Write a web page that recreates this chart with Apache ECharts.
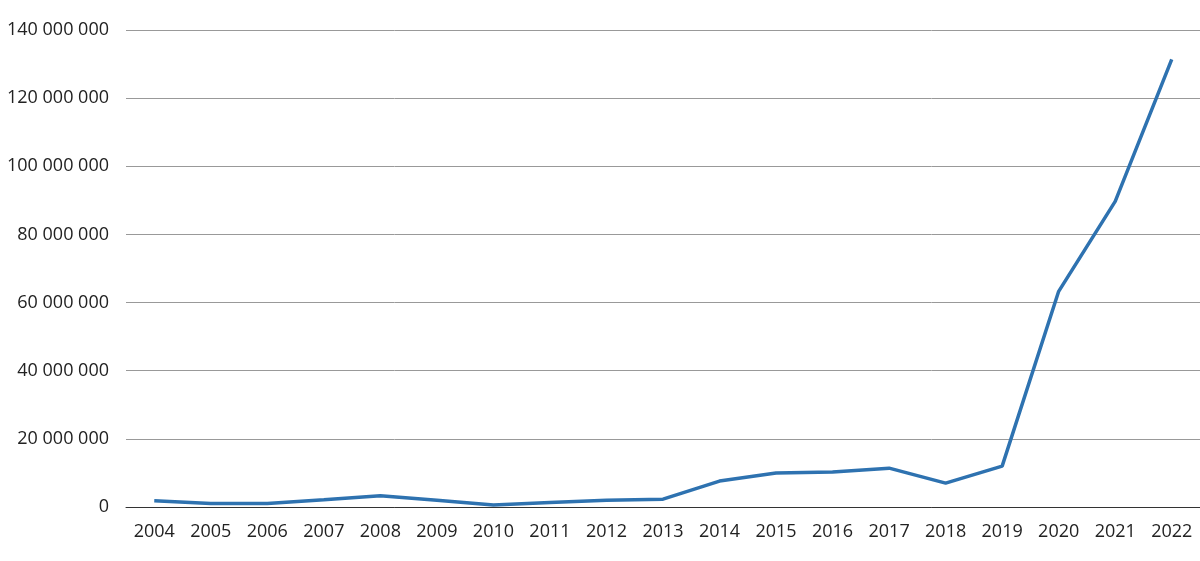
<!DOCTYPE html>
<html>
<head>
<meta charset="utf-8">
<script src="https://cdn.jsdelivr.net/npm/echarts@6/dist/echarts.min.js"></script>
<style>
  html, body { margin: 0; padding: 0; background: #fff; }
  #chart { width: 1200px; height: 561px; }
</style>
</head>
<body>
<div id="chart"></div>
<script>
const years = ['2004', '2005', '2006', '2007', '2008', '2009', '2010', '2011', '2012', '2013',
  '2014', '2015', '2016', '2017', '2018', '2019', '2020', '2021', '2022'];
const values = [1800000, 1000000, 1000000, 2100000, 3300000, 2000000, 600000, 1300000, 2000000, 2300000,
  7600000, 10000000, 10300000, 11400000, 7000000, 12000000, 63300000, 89700000, 131400000];

function spaced(v) {
  return String(v).replace(/\B(?=(\d{3})+(?!\d))/g, ' ');
}

const chart = echarts.init(document.getElementById('chart'));
chart.setOption({
  animation: false,
  grid: { left: 126, right: 0, top: 30, bottom: 54 },
  xAxis: {
    type: 'category',
    data: years,
    boundaryGap: true,
    axisLine: { lineStyle: { color: '#333', width: 1 } },
    axisTick: { show: false },
    axisLabel: { color: '#222', fontSize: 18, fontFamily: 'Open Sans', margin: 16 }
  },
  yAxis: {
    type: 'value',
    min: 0,
    max: 140000000,
    interval: 20000000,
    axisLine: { show: false },
    axisTick: { show: false },
    splitLine: { lineStyle: { color: '#999', width: 1 } },
    axisLabel: {
      color: '#222', fontSize: 18, fontFamily: 'Open Sans', margin: 17,
      formatter: spaced
    }
  },
  series: [{
    type: 'line',
    data: values,
    symbol: 'none',
    lineStyle: { color: '#2e72b0', width: 3.5 }
  }]
});
</script>
</body>
</html>
